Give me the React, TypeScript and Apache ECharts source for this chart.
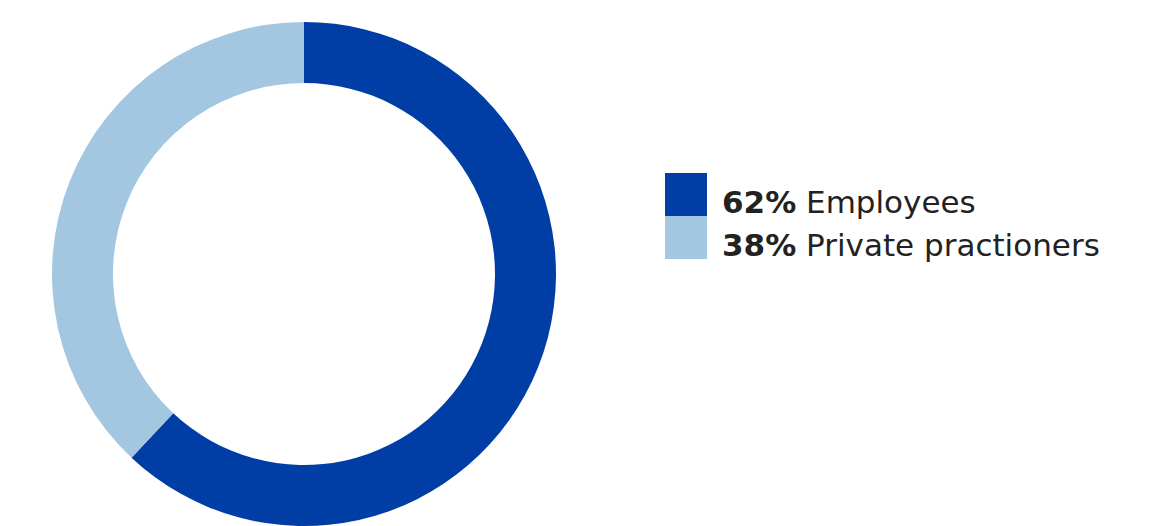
import React, { useEffect, useRef } from "react";
import * as echarts from "echarts";

const categories = ["Employees", "Private practioners"];
const values = [62, 38];
const colors = ["#003DA5", "#A3C6E1"];

export default function App() {
  const ref = useRef<HTMLDivElement>(null);
  useEffect(() => {
    if (!ref.current) return;
    const chart = echarts.init(ref.current, undefined, { renderer: "svg" });
    const total = values.reduce((a, b) => a + b, 0);
    chart.setOption({
      animation: false,
      backgroundColor: "#ffffff",
      color: colors,
      legend: {
        orient: "vertical",
        left: 665,
        top: 173,
        padding: 0,
        itemWidth: 42,
        itemHeight: 43,
        itemGap: -1,
        icon: "rect",
        selectedMode: false,
        itemStyle: { borderWidth: 0 },
        data: categories,
        formatter: (name: string) => {
          const i = categories.indexOf(name);
          const pct = Math.round((values[i] / total) * 100);
          return `{b|${pct}%}{n| ${name}}`;
        },
        textStyle: {
          padding: [14, 0, 0, 10],
          lineHeight: 28,
          height: 28,
          rich: {
            b: { fontFamily: "DejaVu Sans", fontSize: 31, fontWeight: "bold", color: "#222222", lineHeight: 28 },
            n: { fontFamily: "DejaVu Sans", fontSize: 31, color: "#222222", lineHeight: 28 },
          },
        },
      },
      series: [
        {
          type: "pie",
          center: [304, 274],
          radius: [191, 252],
          startAngle: 90,
          clockwise: true,
          label: { show: false },
          labelLine: { show: false },
          emphasis: { disabled: true },
          itemStyle: { borderWidth: 0 },
          data: categories.map((c, i) => ({ name: c, value: values[i] })),
        },
      ],
    });
    return () => chart.dispose();
  }, []);
  return (
    <div
      ref={ref}
      style={{ position: "fixed", left: 0, top: 0, width: 1169, height: 526 }}
    />
  );
}
